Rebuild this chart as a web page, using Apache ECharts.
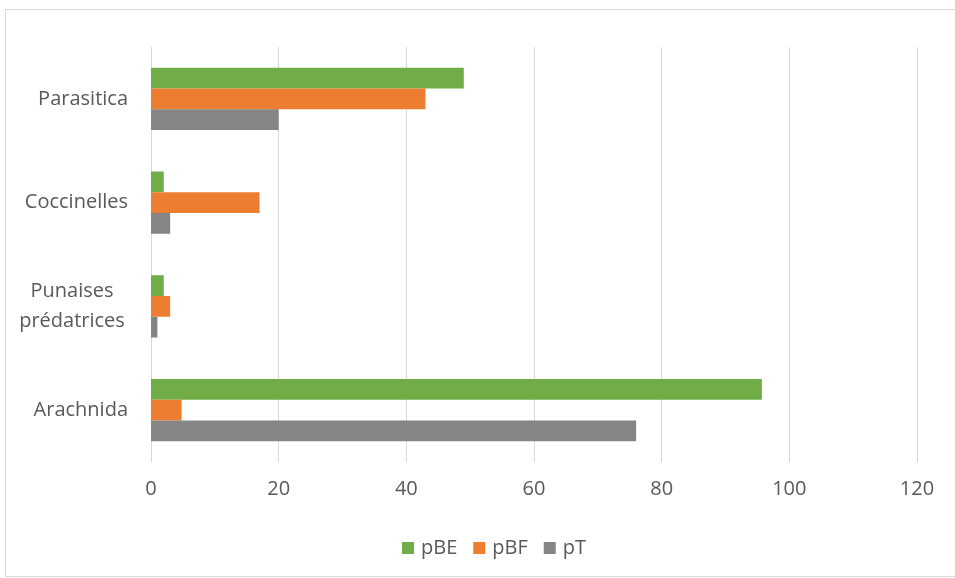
<!DOCTYPE html>
<html><head><meta charset="utf-8">
<script src="https://cdn.jsdelivr.net/npm/echarts@6/dist/echarts.min.js"></script>
<style>html,body{margin:0;padding:0;background:#fff;}#c{width:955px;height:578px;}</style>
</head><body><div id="c"></div>
<script>
const categories = ['Arachnida', 'Punaises\nprédatrices', 'Coccinelles', 'Parasitica'];
const pBE = [95.7, 2, 2, 49];
const pBF = [4.8, 3, 17, 43];
const pT = [76, 1, 3, 20];
const xTicks = [0, 20, 40, 60, 80, 100, 120];

const chart = echarts.init(document.getElementById('c'));
const font = '"Open Sans", sans-serif';
chart.setOption({
  animation: false,
  textStyle: { fontFamily: font },
  graphic: [{ type: 'rect', shape: { x: 5.5, y: 9.5, width: 960, height: 567 }, style: { fill: 'none', stroke: '#d9d9d9', lineWidth: 1 } }],
  grid: { left: 151, right: 38, top: 47, bottom: 116 },
  legend: {
    data: ['pBE', 'pBF', 'pT'], top: 533, left: 397, itemWidth: 12, itemHeight: 12, itemGap: 16,
    icon: 'rect', textStyle: { color: '#595959', fontSize: 20, fontFamily: font, padding: [0, 0, 0, 2] }
  },
  xAxis: {
    type: 'value', min: xTicks[0], max: xTicks[xTicks.length - 1], interval: 20,
    axisLine: { show: false }, axisTick: { show: false },
    axisLabel: { color: '#595959', fontSize: 20, margin: 17, fontFamily: font },
    splitLine: { lineStyle: { color: '#d9d9d9', width: 1 } }
  },
  yAxis: {
    type: 'category', data: categories,
    axisLine: { show: false }, axisTick: { show: false },
    axisLabel: {
      color: '#595959', fontSize: 20, margin: 23, fontFamily: font, align: 'right', lineHeight: 30,
      formatter: function (v) {
        if (v.indexOf('\n') >= 0) return v.split('\n').map(s => '{c|' + s + '}').join('\n');
        return v;
      },
      rich: { c: { width: 112, align: 'center', color: '#595959', fontSize: 20, lineHeight: 30, fontFamily: font } }
    }
  },
  series: [
    { name: 'pBE', type: 'bar', data: pBE, barGap: '0%', barCategoryGap: '40%', itemStyle: { color: '#70AD47' } },
    { name: 'pBF', type: 'bar', data: pBF, itemStyle: { color: '#ED7D31' } },
    { name: 'pT', type: 'bar', data: pT, itemStyle: { color: '#858585' } }
  ]
});
</script></body></html>
